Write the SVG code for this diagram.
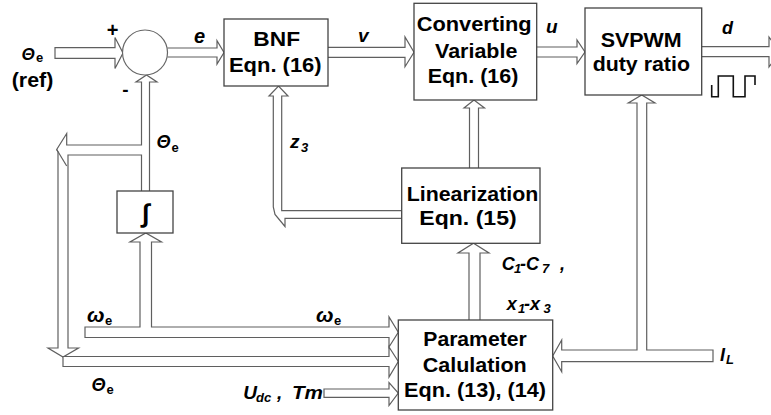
<svg xmlns="http://www.w3.org/2000/svg" width="771" height="415" viewBox="0 0 771 415">
<style>
.box{fill:#fff;stroke:#444;stroke-width:1.3}
.ar{fill:#fff;stroke:#5f5f5f;stroke-width:1.2;stroke-linejoin:miter}
.bx{font-family:"Liberation Sans",Arial,sans-serif;font-weight:bold;font-size:19.5px;text-anchor:middle;fill:#000}
.lb{font-family:"Liberation Sans",Arial,sans-serif;font-weight:bold;font-style:italic;font-size:18px;fill:#000}
.sb{font-family:"Liberation Sans",Arial,sans-serif;font-weight:bold;font-size:13px;fill:#000}
.sbi{font-family:"Liberation Sans",Arial,sans-serif;font-weight:bold;font-style:italic;font-size:13px;fill:#000}
</style>
<rect width="771" height="415" fill="#fff"/>
<g id="connectors">
<path class="ar" d="M55,47.7 H115 V37.5 L123,53 L115,68.5 V58.3 H55 Z"/>
<path class="ar" d="M167.5,48 H217 V40.7 L224,52.5 L217,64 V57 H167.5"/>
<path class="ar" d="M328,47.3 H405 V37 L414,52.3 L405,66.7 V57.3 H328"/>
<path class="ar" d="M536.7,47 H577 V40 L585,52 L577,63.5 V57 H536.7"/>
<path class="ar" d="M701.7,46.7 H769 V37 L780,52 L769,67 V56.7 H701.7"/>
<path class="ar" d="M149.5,191 V82 H157 L146.5,75 L136,82 H141.5 V145 H66.7 V133.5 L56.7,149.5 L58,152 V348 H48 L63,357 L78.5,348 H68 V155 H141.5 V191"/>
<path class="ar" fill="none" d="M56.7,149.5 L66.7,166"/>
<path class="ar" d="M85,327 H140 V242 H130 L145.8,233 L161.5,242 H151.5 V327 H389 V317 L398.3,332.2 L389,347 V337.5 H85 Z"/>
<path class="ar" d="M63,356.5 H389 V347 L398.3,361.5 L389,377 V366.5 H63 Z"/>
<path class="ar" d="M324,389 H389 V382.5 L398.3,393 L389,405.5 V397.3 H324 Z"/>
<path class="ar" d="M401.7,210.7 H281.7 V96 H288 L278.5,86 L269,96 H273.3 V207 L275,214.5 L285,226.5 V218.3 H401.7"/>
<path class="ar" d="M469.5,168 V108 H464 L474,100 L484.5,108 H478.5 V168"/>
<path class="ar" d="M469,320 V253 H458 L473.5,243.3 L489,253 H480 V320"/>
<path class="ar" d="M713,350 H646.7 V103 H655 L641.7,95 L628.3,103 H637 V350 H561.7 V340 L552.7,356 L561.7,371.7 V361.7 H713 Z"/>
</g>
<g id="sum">
<circle cx="145" cy="52.5" r="22.5" fill="#fff" stroke="#666" stroke-width="1.2"/>
<text class="bx" x="112.5" y="37" style="font-size:20px">+</text>
<text class="bx" x="125.5" y="96" style="font-size:19px">-</text>
</g>
<g id="bnf">
<rect class="box" x="224" y="19" width="104" height="67"/>
<text class="bx" x="276.7" y="46" textLength="46.7" lengthAdjust="spacingAndGlyphs">BNF</text>
<text class="bx" x="275.3" y="71.5" textLength="92.7" lengthAdjust="spacingAndGlyphs">Eqn. (16)</text>
</g>
<g id="converting">
<rect class="box" x="414" y="3.3" width="122.7" height="96.7"/>
<text class="bx" x="474.2" y="30.5" textLength="115" lengthAdjust="spacingAndGlyphs">Converting</text>
<text class="bx" x="476.2" y="57.5" textLength="82.3" lengthAdjust="spacingAndGlyphs">Variable</text>
<text class="bx" x="473" y="83" textLength="90.6" lengthAdjust="spacingAndGlyphs">Eqn. (16)</text>
</g>
<g id="svpwm">
<rect class="box" x="585" y="8" width="116.7" height="87"/>
<text class="bx" x="641.2" y="46.7" textLength="81" lengthAdjust="spacingAndGlyphs">SVPWM</text>
<text class="bx" x="641.3" y="70.7" textLength="97.3" lengthAdjust="spacingAndGlyphs">duty ratio</text>
<polyline points="711.7,85 711.7,96.7 718.3,96.7 718.3,76 733.3,76 733.3,96.7 745,96.7 745,76 755,76 755,85" fill="none" stroke="#111" stroke-width="1.6"/>
</g>
<g id="linearization">
<rect class="box" x="401.7" y="168" width="138.3" height="75.3"/>
<text class="bx" x="472.5" y="200.7" textLength="131.6" lengthAdjust="spacingAndGlyphs">Linearization</text>
<text class="bx" x="468" y="225" textLength="97.4" lengthAdjust="spacingAndGlyphs">Eqn. (15)</text>
</g>
<g id="parameter">
<rect class="box" x="398.3" y="320" width="154.4" height="90"/>
<text class="bx" x="475" y="346" textLength="103.4" lengthAdjust="spacingAndGlyphs">Parameter</text>
<text class="bx" x="474.7" y="371.7" textLength="104" lengthAdjust="spacingAndGlyphs">Calulation</text>
<text class="bx" x="475" y="396.7" textLength="142" lengthAdjust="spacingAndGlyphs">Eqn. (13), (14)</text>
</g>
<g id="integrator">
<rect class="box" x="117" y="191" width="56" height="42"/>
<text class="bx" x="145.5" y="222" style="font-size:26px">∫</text>
</g>
<g id="labels">
<text class="lb" x="21.5" y="60" style="font-size:17px">Θ</text><text class="sb" x="36" y="62">e</text>
<text class="bx" x="32.5" y="87" textLength="41.6" lengthAdjust="spacingAndGlyphs">(ref)</text>
<text class="lb" x="194" y="43" style="font-size:20px">e</text>
<text class="lb" x="358" y="42" style="font-size:19px">v</text>
<text class="lb" x="546" y="33" style="font-size:19px">u</text>
<text class="lb" x="722" y="34" style="font-size:18px">d</text>
<text class="lb" x="156.5" y="148.3">Θ</text><text class="sb" x="171.5" y="152">e</text>
<text class="lb" x="290" y="148" style="font-size:19px">z</text><text class="sbi" x="301" y="152">3</text>
<text class="lb" x="87" y="322" style="font-size:20px" textLength="17.5" lengthAdjust="spacingAndGlyphs">ω</text><text class="sb" x="105" y="325">e</text>
<text class="lb" x="316" y="322" style="font-size:20px" textLength="17.5" lengthAdjust="spacingAndGlyphs">ω</text><text class="sb" x="334" y="325">e</text>
<text class="lb" x="91.5" y="390.7">Θ</text><text class="sb" x="106.5" y="393.5">e</text>
<text class="lb" x="243.3" y="399" style="font-size:19px">U</text><text class="sbi" x="256" y="402">dc</text>
<text class="lb" x="277" y="399" style="font-size:19px">,</text>
<text class="lb" x="292" y="399" style="font-size:19px" textLength="31" lengthAdjust="spacingAndGlyphs">Tm</text>
<text class="lb" x="501.7" y="270">C</text><text class="sbi" x="514" y="273">1</text><text class="lb" x="520" y="270">-C</text><text class="sbi" x="542" y="273">7</text><text class="lb" x="560" y="270">,</text>
<text class="lb" x="506.7" y="310">x</text><text class="sbi" x="518" y="313">1</text><text class="lb" x="524" y="310">-x</text><text class="sbi" x="543.5" y="313">3</text>
<text class="lb" x="720" y="361">I</text><text class="sbi" x="726" y="364">L</text>
</g>
</svg>
